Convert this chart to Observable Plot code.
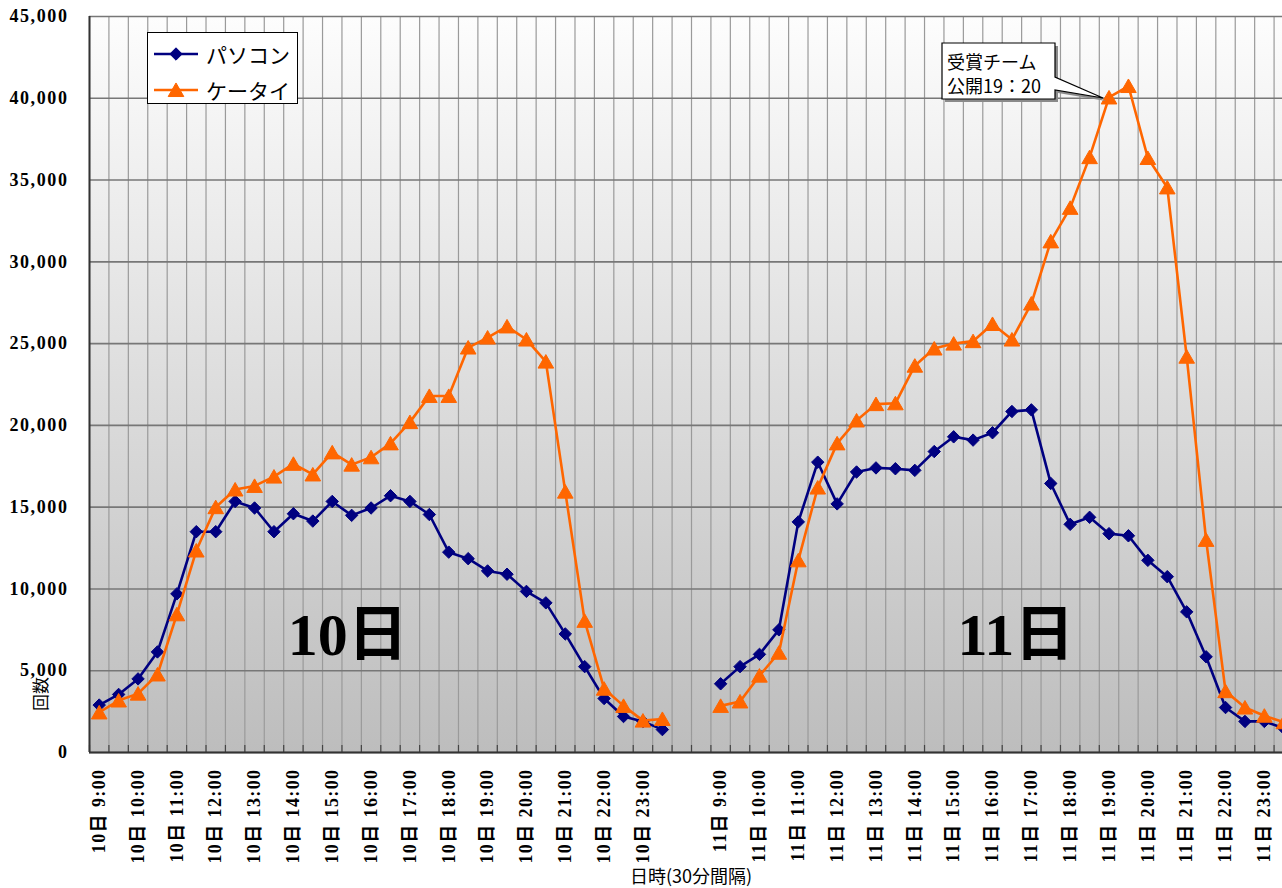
<!DOCTYPE html>
<html><head><meta charset="utf-8">
<script src="https://cdn.jsdelivr.net/npm/d3@7"></script>
<script src="https://cdn.jsdelivr.net/npm/@observablehq/plot@0.6"></script>
<style>
html,body{margin:0;padding:0;background:#fff;overflow:hidden;}
#wrap{position:relative;width:1282px;height:888px;overflow:hidden;}
#wrap svg.main{position:absolute;left:0;top:0;}
g[aria-label="y-axis tick label"] text{letter-spacing:1.6px;}
g[aria-label="x-axis tick label"] text{letter-spacing:1.4px;}
.ov{position:absolute;white-space:nowrap;font-family:"Noto Sans CJK JP","Noto Sans",sans-serif;color:#000;}
#legend{position:absolute;left:147px;top:32px;width:149px;height:70px;border:1px solid #000;background:#fff;}
#legend .row{position:absolute;left:5px;height:24px;display:flex;align-items:center;font-family:"Noto Sans CJK JP",sans-serif;font-size:21px;}
#legend .row svg{margin-right:7px;}
</style></head><body><div id="wrap"></div>
<script>
// ---- data ----
const days = ["10日", "11日"];
const times = ["9:00","9:30","10:00","10:30","11:00","11:30","12:00","12:30","13:00","13:30","14:00","14:30","15:00","15:30","16:00","16:30","17:00","17:30","18:00","18:30","19:00","19:30","20:00","20:30","21:00","21:30","22:00","22:30","23:00","23:30"];
const gapSlots = ["", ""];
const pc10 = [2900,3550,4500,6150,9700,13500,13500,15350,14950,13500,14600,14150,15350,14500,14950,15700,15350,14550,12250,11850,11100,10900,9850,9150,7250,5250,3300,2200,1900,1400];
const kt10 = [2450,3180,3600,4770,8450,12350,15000,16080,16300,16870,17650,17000,18350,17600,18050,18900,20200,21800,21800,24760,25370,26050,25250,23900,15950,8050,3900,2850,1950,2050];
const pc11 = [4200,5250,6000,7500,14100,17750,15200,17150,17400,17350,17250,18400,19300,19100,19550,20850,20950,16450,13950,14380,13380,13250,11750,10750,8600,5850,2750,1900,1900,1480];
const kt11 = [2850,3120,4700,6100,11750,16200,18900,20300,21300,21350,23650,24700,25000,25150,26200,25250,27450,31250,33300,36400,40050,40750,36350,34550,24200,13000,3750,2750,2250,1850];
const seriesNames = ["パソコン", "ケータイ"];
const seriesColors = ["#000080", "#FF6600"];
const yTicks = [0,5000,10000,15000,20000,25000,30000,35000,40000,45000];
const yTitle = "回数";
const xTitle = "日時(30分間隔)";
const calloutLines = ["受賞チーム", "公開19：20"];

// ---- derived tables ----
const categories = [...times.map(t => `${days[0]} ${t}`), ...gapSlots, ...times.map(t => `${days[1]} ${t}`)];
const hourTicks = categories.map((c, i) => c.endsWith(":00") ? i : null).filter(i => i !== null);
const boundaries = d3.range(-0.5, categories.length, 1);
const valuesBySeries = {[seriesNames[0]]: [pc10, pc11], [seriesNames[1]]: [kt10, kt11]};
const rows = [];
seriesNames.forEach(s => days.forEach((day, d) => valuesBySeries[s][d].forEach((v, k) =>
  rows.push({series: s, day, i: categories.indexOf(`${day} ${times[k]}`), v}))));
const pcRows = rows.filter(r => r.series === seriesNames[0]);
const ktRows = rows.filter(r => r.series === seriesNames[1]);
const dayLabels = [{label: days[0], i: 12.8, v: 7150}, {label: days[1], i: 47.2, v: 7150}];

const defsMark = () => {
  const ns = "http://www.w3.org/2000/svg";
  const defs = document.createElementNS(ns, "defs");
  defs.innerHTML = `<linearGradient id="plotbg" x1="0" y1="0" x2="0" y2="1"><stop offset="0" stop-color="#fdfdfd"/><stop offset="1" stop-color="#bdbdbd"/></linearGradient>`;
  return defs;
};

const serif = "'Liberation Serif','Noto Sans CJK JP',serif";
const plot = Plot.plot({
  width: 1282, height: 888,
  marginLeft: 89, marginRight: 0, marginTop: 16, marginBottom: 136,
  style: {fontFamily: serif, fontSize: "18px", background: "transparent", color: "#000"},
  x: {type: "linear", domain: [-0.5, categories.length - 0.5], range: [89, 1293]},
  y: {domain: [0, 45000], range: [752, 16]},
  marks: [
    defsMark,
    Plot.frame({fill: "url(#plotbg)", stroke: "none"}),
    Plot.ruleX(boundaries, {stroke: "#9a9a9a", strokeWidth: 1.2}),
    Plot.ruleY(yTicks, {stroke: "#777", strokeWidth: 1.6}),
    Plot.ruleX(boundaries, {y1: 0, y2: 430, stroke: "#444", strokeWidth: 1.2}),
    Plot.axisY({ticks: yTicks, tickFormat: d3.format(","), tickSize: 0, tickPadding: 21, label: null,
      fontSize: 18, fontWeight: "bold", fontFamily: serif}),
    Plot.axisX({ticks: hourTicks, tickFormat: i => categories[i], tickRotate: -90, tickSize: 0, tickPadding: 16, label: null,
      fontSize: 18, fontWeight: "bold", fontFamily: serif}),
    Plot.ruleX([-0.5], {stroke: "#333", strokeWidth: 2}),
    Plot.ruleY([0], {stroke: "#333", strokeWidth: 2}),
    Plot.line(pcRows, {x: "i", y: "v", z: "day", stroke: seriesColors[0], strokeWidth: 2.6}),
    Plot.dot(pcRows, {x: "i", y: "v", symbol: "diamond2", r: 5.6, fill: seriesColors[0], stroke: seriesColors[0], strokeWidth: 1}),
    Plot.line(ktRows, {x: "i", y: "v", z: "day", stroke: seriesColors[1], strokeWidth: 2.6}),
    Plot.dot(ktRows, {x: "i", y: "v", symbol: "triangle", r: 5.8, dy: 2, fill: seriesColors[1], stroke: seriesColors[1], strokeWidth: 1}),
    Plot.text(dayLabels, {x: "i", y: "v", text: "label", fontSize: 60, fontWeight: "bold", fontFamily: serif, fill: "#000"})
  ]
});
plot.classList.add("main");
const wrap = document.getElementById("wrap");
wrap.appendChild(plot);

// ---- legend ----
const legend = document.createElement("div");
legend.id = "legend";
const symbols = [d3.symbolDiamond2, d3.symbolTriangle];
seriesNames.forEach((name, k) => {
  const row = document.createElement("div");
  row.className = "row";
  row.style.top = (k === 0 ? 9 : 45) + "px";
  const s = d3.create("svg").attr("width", 46).attr("height", 20);
  s.append("line").attr("x1", 1).attr("x2", 45).attr("y1", 10).attr("y2", 10).attr("stroke", seriesColors[k]).attr("stroke-width", 2.6);
  s.append("path").attr("transform", `translate(23,${k === 0 ? 10 : 12})`)
    .attr("d", d3.symbol(symbols[k], k === 0 ? 98 : 106)()).attr("fill", seriesColors[k]).attr("stroke", seriesColors[k]);
  row.appendChild(s.node());
  const t = document.createElement("span");
  t.textContent = name;
  row.appendChild(t);
  legend.appendChild(row);
});
wrap.appendChild(legend);

// ---- callout ----
const co = d3.create("svg").attr("width", 1282).attr("height", 888)
  .style("position", "absolute").style("left", 0).style("top", 0).style("pointer-events", "none");
const calloutPath = "M942,43 H1055 V77 L1103,98 L1055,90 V99 H942 Z";
co.append("path").attr("d", calloutPath).attr("transform", "translate(3,3)").attr("fill", "#8a8a8a");
co.append("path").attr("d", calloutPath).attr("fill", "#fff").attr("stroke", "#000").attr("stroke-width", 1.2);
calloutLines.forEach((line, k) => co.append("text").attr("x", 947).attr("y", 61 + k * 24)
  .attr("dominant-baseline", "central").attr("font-family", "'Noto Sans CJK JP',sans-serif").attr("font-size", 18).text(line));
wrap.appendChild(co.node());

// ---- titles ----
const yt = document.createElement("div");
yt.className = "ov"; yt.textContent = yTitle;
Object.assign(yt.style, {left: "39px", top: "694px", fontSize: "17px", transform: "translate(-50%,-50%) rotate(-90deg)"});
wrap.appendChild(yt);
const xt = document.createElement("div");
xt.className = "ov"; xt.textContent = xTitle;
Object.assign(xt.style, {left: "691px", top: "875px", fontSize: "18px", lineHeight: "20px", transform: "translate(-50%,-50%)"});
wrap.appendChild(xt);
</script>
</body></html>
